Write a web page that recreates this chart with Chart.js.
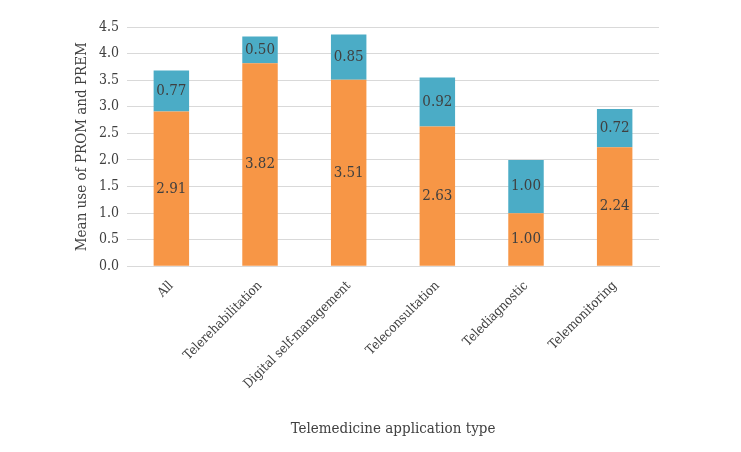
<!DOCTYPE html>
<html>
<head>
<meta charset="utf-8">
<script src="https://cdn.jsdelivr.net/npm/chart.js@4"></script>
<style>
  html, body { margin: 0; padding: 0; background: #fff; }
  #wrap { width: 741px; height: 452px; }
</style>
</head>
<body>
<div id="wrap"><canvas id="chart" width="741" height="452"></canvas></div>
<script>
const categories = ['All', 'Telerehabilitation', 'Digital self-management', 'Teleconsultation', 'Telediagnostic', 'Telemonitoring'];
const promValues = [2.91, 3.82, 3.51, 2.63, 1.00, 2.24];
const premValues = [0.77, 0.50, 0.85, 0.92, 1.00, 0.72];

const FONT = "'DejaVu Serif Condensed', 'DejaVu Serif', serif";
const TEXT = '#404040';

// draw value labels in the middle of each segment
const barLabels = {
  id: 'barLabels',
  afterDatasetsDraw(chart) {
    const ctx = chart.ctx;
    ctx.save();
    ctx.font = '15px ' + FONT;
    ctx.fillStyle = TEXT;
    ctx.textAlign = 'center';
    ctx.textBaseline = 'middle';
    chart.data.datasets.forEach((ds, i) => {
      chart.getDatasetMeta(i).data.forEach((bar, j) => {
        const mid = (bar.y + bar.base) / 2;
        ctx.fillText(ds.data[j].toFixed(2), bar.x, mid);
      });
    });
    ctx.restore();
  }
};

new Chart(document.getElementById('chart'), {
  type: 'bar',
  data: {
    labels: categories,
    datasets: [
      { label: 'PROM', data: promValues, backgroundColor: '#F79646' },
      { label: 'PREM', data: premValues, backgroundColor: '#4BACC6' }
    ]
  },
  options: {
    responsive: false,
    animation: false,
    layout: { padding: { left: 73, right: 82, top: 27, bottom: 10 } },
    datasets: { bar: { categoryPercentage: 1, barPercentage: 0.4 } },
    plugins: {
      legend: { display: false },
      tooltip: { enabled: false }
    },
    scales: {
      x: {
        stacked: true,
        grid: { display: false },
        border: { color: '#d9d9d9' },
        ticks: {
          color: TEXT,
          font: { family: FONT, size: 13 },
          minRotation: 45,
          maxRotation: 45,
          padding: 4
        },
        title: {
          display: true,
          text: 'Telemedicine application type',
          color: TEXT,
          font: { family: FONT, size: 15 },
          padding: { top: 24 }
        }
      },
      y: {
        stacked: true,
        min: 0,
        max: 4.5,
        ticks: {
          stepSize: 0.5,
          color: TEXT,
          font: { family: FONT, size: 14 },
          padding: 8,
          callback: v => v.toFixed(1)
        },
        grid: { color: '#d9d9d9', drawTicks: false },
        border: { display: false },
        title: {
          display: true,
          text: 'Mean use of PROM and PREM',
          color: TEXT,
          font: { family: FONT, size: 15 },
          padding: { top: 0, bottom: 0 }
        }
      }
    }
  },
  plugins: [barLabels]
});
</script>
</body>
</html>
